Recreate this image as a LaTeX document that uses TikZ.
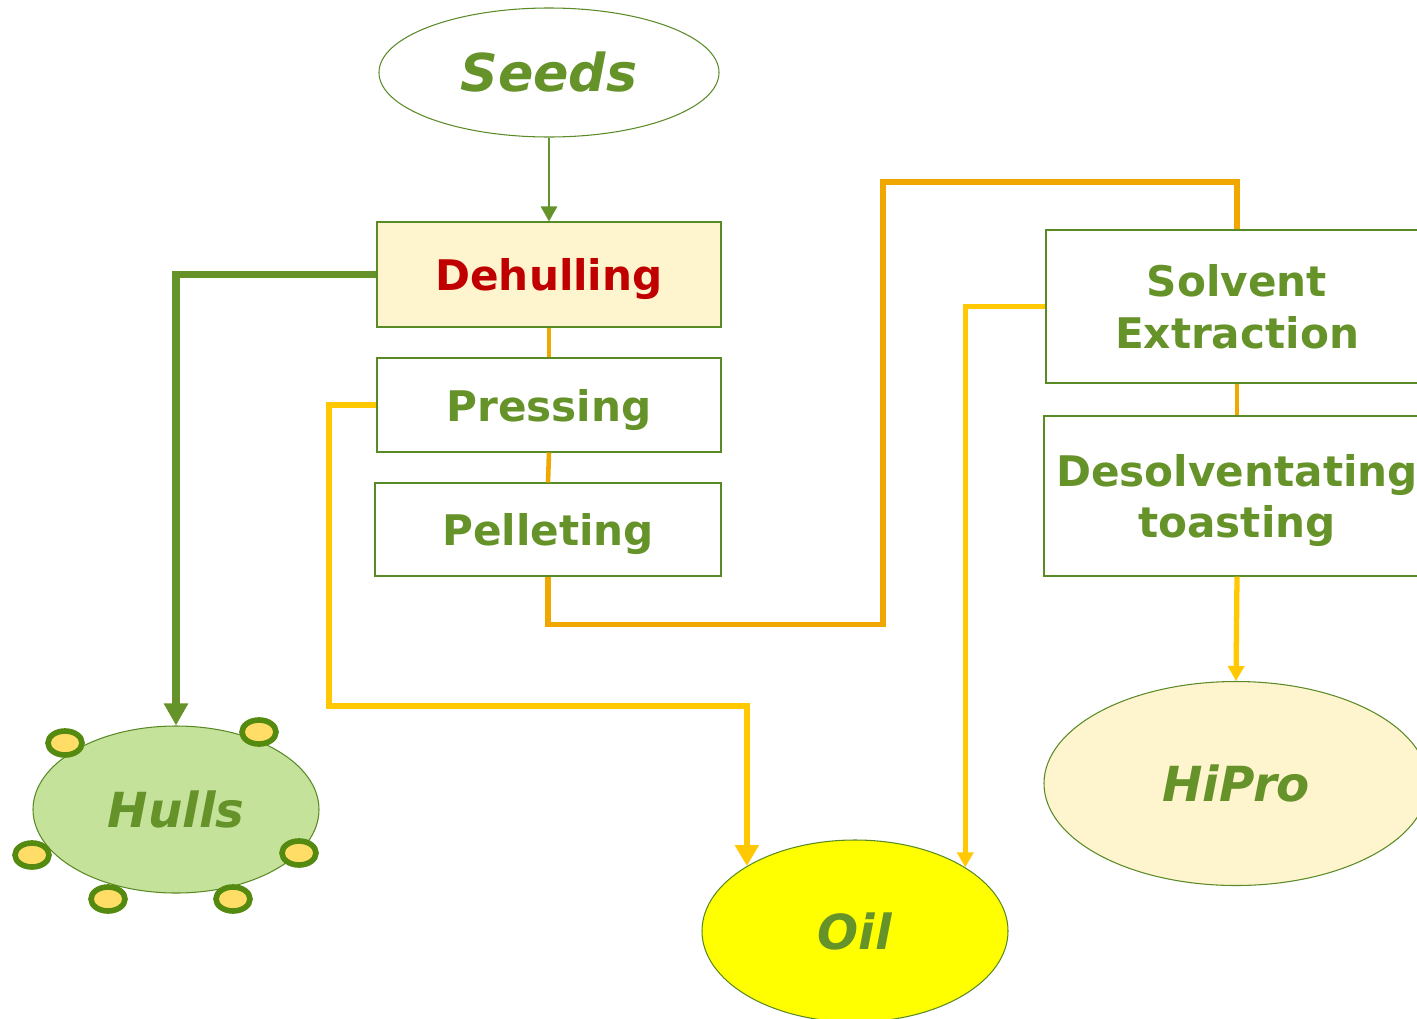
\documentclass[tikz,border=0pt]{standalone}
\usepackage{fontspec}
\setmainfont{DejaVu Sans}
\usetikzlibrary{arrows.meta,shapes.geometric}

\definecolor{leaf}{HTML}{66922A}
\definecolor{edge}{HTML}{5A8A26}
\definecolor{darkred}{HTML}{C00000}
\definecolor{cream}{HTML}{FEF4CD}
\definecolor{hullgreen}{HTML}{C4E29A}
\definecolor{oilyellow}{HTML}{FFFF00}
\definecolor{spotfill}{HTML}{FFDD66}
\definecolor{spotedge}{HTML}{558A10}
\definecolor{mealorange}{HTML}{F0A800}
\definecolor{oilline}{HTML}{FFC800}

\def \pxu {0.02cm}
\def \boxfont {\fontsize{24}{29.5}\selectfont\bfseries}
\def \blobfont {\fontsize{27.5}{30}\selectfont\bfseries\itshape}

\begin{document}
\begin{tikzpicture}[x=0.02cm, y=-0.02cm,
  stepbox/.style={draw=edge, line width=0.6pt, rectangle, inner sep=0pt, text depth=0pt, text=leaf, font=\boxfont, align=center},
  blob/.style={draw=edge, line width=0.6pt, ellipse, inner sep=0pt, text=leaf, font=\blobfont},
  spot/.style={draw=spotedge, line width=3.2pt, ellipse, fill=spotfill, inner sep=0pt, minimum width=34*\pxu, minimum height=24*\pxu},
  feed/.style={draw=leaf, line width=1.5pt, -{Triangle[length=0.3cm, width=0.32cm]}},
  hullline/.style={draw=leaf, line width=4pt, -{Triangle[length=0.44cm, width=0.46cm]}},
  link/.style={draw=mealorange, line width=2.6pt},
  mealline/.style={draw=mealorange, line width=3.2pt},
  oilpath/.style={draw=oilline, line width=3.2pt, -{Triangle[length=0.42cm, width=0.46cm]}},
  thinoil/.style={draw=oilline, line width=3pt, -{Triangle[length=0.3cm, width=0.32cm]}}]
\useasboundingbox (0,0) rectangle (1417,1018);

% process boxes
\node[blob, minimum width=340*\pxu, minimum height=129*\pxu, font=\fontsize{29.7}{32}\selectfont\bfseries\itshape] (seeds) at (549,72.5) {Seeds};
\node[stepbox, fill=cream, text=darkred, minimum width=344*\pxu, minimum height=105*\pxu] (dehull) at (549,274.5) {Dehulling};
\node[stepbox, minimum width=344*\pxu, minimum height=94*\pxu] (press) at (549,405) {Pressing};
\node[stepbox, minimum width=346*\pxu, minimum height=93*\pxu] (pellet) at (548,529.5) {Pelleting};
\node[stepbox, minimum width=382*\pxu, minimum height=153*\pxu] (solvent) at (1237,306.5) {Solvent\\Extraction};
\node[stepbox, minimum width=386*\pxu, minimum height=160*\pxu] (desolv) at (1237,496) {Desolventating\\toasting};

% products
\node[blob, fill=hullgreen, minimum width=286*\pxu, minimum height=167*\pxu] (hulls) at (176,809.5) {Hulls};
\node[blob, fill=oilyellow, minimum width=306*\pxu, minimum height=182*\pxu] (oil) at (855,931) {Oil};
\node[blob, fill=cream, minimum width=384*\pxu, minimum height=204*\pxu] (hipro) at (1236,783.5) {HiPro};

\foreach \sx/\sy [count=\i] in {65/743, 259/732, 32/855, 108/899, 233/899, 299/853}
  \node[spot] (spot\i) at (\sx,\sy) {};

% flows
\draw[feed] (seeds.south) -- (dehull.north);
\draw[hullline] (dehull.west) -| (hulls.north);
\draw[link] (dehull.south) -- (press.north);
\draw[link] (press.south) -- (pellet.north);
\draw[link] (solvent.south) -- (desolv.north);
\coordinate (pressdrop) at (329,706);
\draw[oilpath] (press.west) -| (pressdrop) -| (oil.149);
\coordinate (mealrise) at (883,182);
\draw[mealline] (pellet.south) -- ++(0,48) -| (mealrise) -| (solvent.north);
\draw[thinoil] (solvent.west) -| (oil.30);
\draw[thinoil] (desolv.south) -- (hipro.north);
\end{tikzpicture}
\end{document}
